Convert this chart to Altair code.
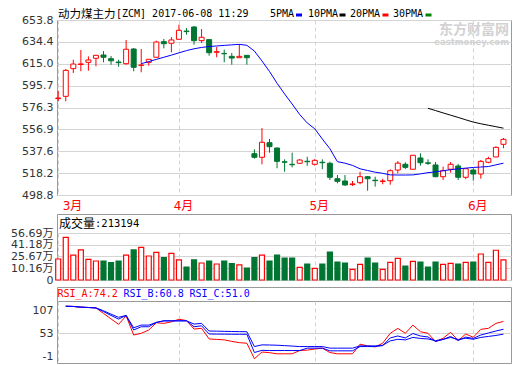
import altair as alt
import pandas as pd

# ---------------- data ----------------
opens = [584.2, 586.2, 610.7, 614.4, 616.3, 619.9, 622.8, 619.5, 616.6, 615.1,
         628.1, 613.6, 616.3, 620.8, 634.6, 633.2, 636.7, 644.0, 647.6, 635.5,
         636.4, 625.2, 624.2, 621.6, 620.4, 622.5, 535.4, 532.2, 545.1, 540.4,
         528.2, 526.0, 526.9, 528.7, 526.0, 527.8, 526.9, 513.2, 511.2, 508.0,
         509.7, 515.0, 511.9, 510.8, 511.5, 520.9, 526.0, 521.6, 531.6, 527.3,
         525.4, 515.0, 521.6, 524.5, 514.5, 520.9, 517.4, 527.8, 532.5, 543.7]
highs = [590.9, 610.4, 618.6, 627.2, 621.6, 622.5, 626.3, 621.9, 618.6, 636.1,
         629.0, 628.1, 619.0, 635.5, 637.0, 638.7, 649.7, 646.7, 648.5, 645.8,
         637.0, 629.9, 627.6, 624.6, 632.5, 622.5, 539.3, 558.1, 548.4, 541.0,
         530.4, 536.3, 530.4, 532.7, 530.7, 530.4, 528.3, 516.5, 516.5, 511.2,
         519.4, 515.6, 515.0, 513.2, 521.5, 528.9, 527.8, 534.0, 535.7, 530.4,
         528.0, 523.9, 528.0, 526.3, 522.1, 522.4, 529.8, 532.7, 541.9, 549.3]
lows = [582.0, 581.8, 606.9, 608.4, 608.9, 612.8, 616.3, 614.2, 612.4, 614.2,
        608.4, 607.5, 613.3, 620.8, 628.7, 625.2, 636.7, 640.8, 631.9, 633.4,
        622.2, 620.8, 616.3, 614.2, 620.4, 614.2, 531.0, 526.0, 536.3, 522.5,
        519.4, 523.3, 526.3, 524.8, 524.8, 521.6, 512.1, 509.2, 506.8, 506.8,
        508.3, 502.6, 506.2, 508.3, 507.9, 518.0, 521.8, 521.6, 524.8, 525.4,
        514.5, 512.1, 518.6, 512.1, 512.9, 511.5, 513.2, 526.9, 532.2, 540.2]
closes = [584.7, 609.2, 614.8, 614.9, 618.4, 622.5, 620.8, 617.7, 616.0, 627.9,
          611.9, 613.9, 619.0, 634.3, 632.8, 636.1, 644.7, 643.5, 635.5, 638.5,
          624.8, 625.7, 623.9, 620.1, 621.6, 620.4, 532.2, 545.5, 541.6, 528.6,
          527.8, 525.6, 529.8, 528.3, 529.5, 527.4, 514.5, 510.9, 507.7, 508.6,
          515.0, 513.2, 511.5, 511.2, 520.3, 527.0, 523.3, 534.0, 527.4, 526.9,
          515.0, 520.3, 526.0, 514.5, 522.1, 517.4, 528.6, 531.0, 541.0, 548.1]
volumes = [22.4, 51.0, 27.6, 34.3, 22.0, 19.7, 19.7, 17.5, 19.7, 27.6,
           34.3, 37.8, 26.3, 31.2, 24.1, 29.9, 21.1, 11.8, 21.1, 17.1,
           19.7, 15.8, 19.7, 16.2, 14.5, 10.5, 24.1, 27.6, 19.7, 27.6,
           23.7, 23.7, 11.4, 15.8, 10.1, 15.8, 31.6, 18.4, 17.1, 8.8,
           15.4, 23.7, 17.1, 8.8, 18.0, 23.3, 13.1, 19.3, 18.4, 11.8,
           18.4, 15.4, 16.7, 15.8, 18.0, 18.4, 29.0, 18.0, 33.9, 21.3]
ma_blue = [None] * 11 + [
    615.1, 617.0, 618.9, 620.8, 622.7, 624.7, 626.7, 628.3, 629.5,
    630.3, 630.8, 631.3, 631.8, 632.2, 631.4, 626.3, 617.5, 608.2, 597.8,
    588.3, 579.4, 570.1, 562.6, 557.4, 548.4, 539.8, 528.3, 527.0, 525.0,
    522.0, 520.5, 519.0, 518.0, 516.6, 516.5, 516.5, 516.6, 517.5, 518.6,
    519.3, 520.3, 521.2, 522.0, 522.6, 523.2, 523.6, 524.0, 525.5, 527.0]
ma_black = [None] * 49 + [575.6, 573.6, 571.5, 569.5, 567.5, 565.4, 563.4,
                          561.9, 560.6, 559.3, 558.0]
rsi_a = [None, 116.6, 116.1, 114.5, 113.6, 112.6, 99.8, 86.8, 74.0, 94.0,
         49.0, 53.0, 60.7, 77.7, 76.3, 80.0, 86.0, 83.0, 63.0, 64.6,
         39.7, 38.6, 37.6, 34.0, 31.0, 29.7, -6.8, 9.0, 7.5, 4.8,
         4.8, 4.8, 12.5, 13.5, 16.0, 18.1, 7.8, 4.8, 4.8, 4.8,
         27.4, 23.4, 21.1, 29.7, 53.0, 64.6, 53.0, 72.3, 56.7, 53.0,
         33.4, 41.4, 55.3, 35.8, 51.4, 43.7, 62.3, 64.6, 76.3, 80.9]
rsi_b = [None, 116.6, 116.1, 114.5, 113.6, 112.6, 104.0, 95.0, 86.3, 95.0,
         60.7, 68.4, 68.4, 78.6, 82.3, 82.3, 82.3, 82.3, 68.4, 70.7,
         51.4, 51.2, 51.0, 50.8, 50.7, 50.7, 7.8, 13.0, 12.5, 12.5,
         12.5, 12.5, 12.5, 18.1, 18.1, 18.1, 11.8, 11.8, 11.8, 11.8,
         21.8, 21.8, 21.8, 24.0, 42.1, 46.7, 42.1, 52.5, 46.7, 44.4,
         33.9, 38.6, 45.6, 36.1, 44.0, 41.0, 49.0, 53.7, 58.4, 62.5]
rsi_c = [None, 116.6, 116.1, 114.5, 113.6, 112.6, 106.0, 98.0, 90.5, 95.0,
         66.0, 72.3, 72.3, 78.6, 82.3, 82.3, 82.3, 82.3, 74.7, 76.3,
         58.4, 58.0, 57.6, 57.2, 56.9, 56.7, 21.8, 25.8, 25.5, 25.0,
         24.0, 23.0, 21.8, 21.8, 21.8, 21.8, 18.1, 18.1, 18.1, 18.1,
         23.4, 23.4, 23.4, 25.0, 35.1, 39.0, 37.4, 43.3, 40.9, 39.7,
         35.8, 38.6, 43.3, 38.6, 41.4, 39.0, 43.3, 45.6, 47.9, 51.0]

month_pos = [0, 16, 34, 55]
month_names = ["3月", "4月", "5月", "6月"]
price_ticks = [498.8, 518.2, 537.6, 556.9, 576.3, 595.7, 615.0, 634.4, 653.8]
vol_ticks = [-5.35, 10.16, 25.67, 41.18, 56.69]   # bottom one is labelled "0"
rsi_ticks = [-1, 53, 107]
rsi_domain = [-16.8, 128.9]

title_cn = "动力煤主力"
title_en = "[ZCM] 2017-06-08 11:29"
legend_names = ["5PMA", "10PMA", "20PMA", "30PMA"]
vol_title_cn = "成交量"
vol_title_num = ":213194"
rsi_header = ["RSI_A:74.2", "RSI_B:60.8", "RSI_C:51.0"]
watermark = ["东方财富网", "eastmoney.com"]

# ---------------- styles ----------------
RED = "#ff0000"
GREEN = "#007532"
BLUE = "#0000ff"
GRID = "#d4d4d4"
BORDER = "#999999"
FONT_NUM = "DejaVu Sans"
FONT_MONO = "DejaVu Sans Mono"
FONT_CJK = "Noto Sans CJK SC"
FONT_MIX = "DejaVu Sans Mono, Noto Sans CJK SC"
W = 454

df = pd.DataFrame({
    "i": list(range(len(opens))),
    "open": opens, "high": highs, "low": lows, "close": closes,
    "vol": volumes,
    "ma_blue": pd.Series(ma_blue, dtype=float),
    "ma_black": pd.Series(ma_black, dtype=float),
    "rsi_a": pd.Series(rsi_a, dtype=float),
    "rsi_b": pd.Series(rsi_b, dtype=float),
    "rsi_c": pd.Series(rsi_c, dtype=float),
})
df["dir"] = ["up" if c >= o else "down" for o, c in zip(opens, closes)]

x_scale = alt.Scale(domain=[-0.16, 60], nice=False, zero=False, padding=0)
month_expr = " : ".join(f"datum.value == {p} ? '{n}'" for p, n in zip(month_pos, month_names)) + " : ''"
x_main_axis = alt.Axis(values=month_pos, labelExpr=month_expr, grid=True, gridDash=[4, 3],
                       gridColor=GRID, ticks=False, domain=False, labelColor=RED,
                       labelFontSize=12, labelFont=f"{FONT_NUM}, {FONT_CJK}",
                       labelPadding=5, labelFlush=5, labelOffset=4, title=None)
x_grid_axis = alt.Axis(values=month_pos, labels=False, grid=True, gridDash=[4, 3],
                       gridColor=GRID, ticks=False, domain=False, title=None)

yax = dict(ticks=False, domain=False, labelPadding=4, labelFont=FONT_NUM, labelFontSize=11,
           labelColor="#333333", minExtent=48, maxExtent=48, title=None)
y_main_axis = alt.Axis(values=price_ticks, format=".1f", grid=True, gridColor=GRID, **yax)
y_main_scale = alt.Scale(domain=[price_ticks[0], price_ticks[-1]], nice=False, zero=False)

stroke_enc = alt.Stroke("dir:N", scale=alt.Scale(domain=["up", "down"], range=[RED, GREEN]), legend=None)
fill_enc = alt.Fill("dir:N", scale=alt.Scale(domain=["up", "down"], range=["#ffffff", GREEN]), legend=None)

base = alt.Chart(df)
X_main = alt.X("i:Q", scale=x_scale, axis=x_main_axis)

wicks = base.mark_rule(strokeWidth=1).encode(
    x=X_main, y=alt.Y("low:Q", scale=y_main_scale, axis=y_main_axis), y2="high:Q", stroke=stroke_enc)
bodies = base.mark_bar(width=5, strokeWidth=1).encode(
    x=X_main, y=alt.Y("open:Q", scale=y_main_scale, axis=y_main_axis), y2="close:Q",
    fill=fill_enc, stroke=stroke_enc)
line_blue = base.mark_line(color=BLUE, strokeWidth=1).encode(
    x=X_main, y=alt.Y("ma_blue:Q", scale=y_main_scale, axis=y_main_axis))
line_black = base.mark_line(color="#000000", strokeWidth=1).encode(
    x=X_main, y=alt.Y("ma_black:Q", scale=y_main_scale, axis=y_main_axis))


def text_layer(txt, x, y, font, size, color, align="left", weight="normal"):
    return alt.Chart(pd.DataFrame({"t": [txt]})).mark_text(
        align=align, baseline="middle", font=font, fontSize=size, color=color, fontWeight=weight
    ).encode(x=alt.value(x), y=alt.value(y), text="t:N")


wm1 = text_layer(watermark[0], 452, 10, FONT_CJK, 14, "#d2d2d2", align="right", weight="bold")
wm2 = text_layer(watermark[1], 452, 21.5, FONT_NUM, 8.5, "#d2d2d2", align="right", weight="bold")

t1 = text_layer(title_cn, 1, -5.5, FONT_MIX, 11.5, "#000000")
t2 = text_layer(title_en, 59, -6, FONT_MONO, 10, "#000000")

legend_colors = [BLUE, "#000000", RED, "#008000"]
legend_text_x = [213, 251, 293, 336]
legend_mark_x = [(239, 245), (282.5, 288.5), (325.5, 331.5), (368.5, 374.5)]
legend_layers = []
for name, col, tx, (m1, m2) in zip(legend_names, legend_colors, legend_text_x, legend_mark_x):
    legend_layers.append(text_layer(name, tx, -6, FONT_MONO, 10, "#000000"))
    legend_layers.append(
        alt.Chart(pd.DataFrame({"t": [name]})).mark_rule(color=col, strokeWidth=3).encode(
            x=alt.value(m1), x2=alt.value(m2), y=alt.value(-5)))

main = alt.layer(wicks, bodies, line_blue, line_black, wm1, wm2, t1, t2, *legend_layers).properties(
    width=W, height=175)


def spacer(h):
    return alt.Chart(pd.DataFrame({"t": [""]})).mark_text().encode(text="t:N").properties(
        width=W, height=h, view=alt.ViewBackground(stroke="transparent"))


# volume header + plot
vol_head = alt.layer(
    text_layer(vol_title_cn, 2, 9.5, FONT_CJK, 12, "#000000"),
    text_layer(vol_title_num, 38, 9.5, FONT_MONO, 10.5, "#000000"),
).properties(width=W, height=19)

vol_expr = "datum.value < 0 ? '0' : format(datum.value, '.2f') + '万'"
vol_plot = base.mark_bar(width=5, strokeWidth=1.2).encode(
    x=alt.X("i:Q", scale=x_scale, axis=x_grid_axis),
    y=alt.Y("vol:Q", scale=alt.Scale(domain=[vol_ticks[0], vol_ticks[-1]], nice=False, zero=False),
            axis=alt.Axis(values=vol_ticks, labelExpr=vol_expr, grid=True, gridColor=GRID,
                          **{**yax, "labelFont": f"{FONT_NUM}, {FONT_CJK}"})),
    y2=alt.datum(vol_ticks[0]),
    fill=fill_enc, stroke=stroke_enc,
).properties(width=W, height=47)

# RSI header + plot
rsi_colors = [RED, BLUE, BLUE]
rsi_head = alt.layer(
    *[text_layer(t, 0.5 + 66 * k, 7, FONT_MONO, 10, c) for k, (t, c) in enumerate(zip(rsi_header, rsi_colors))]
).properties(width=W, height=14)

rsi_plot = base.transform_fold(["rsi_a", "rsi_b", "rsi_c"], as_=["key", "val"]).mark_line(strokeWidth=1).encode(
    x=alt.X("i:Q", scale=x_scale, axis=x_grid_axis),
    y=alt.Y("val:Q", scale=alt.Scale(domain=rsi_domain, nice=False, zero=False),
            axis=alt.Axis(values=rsi_ticks, labelExpr="'' + datum.value", grid=True,
                          gridColor={"condition": {"test": "datum.value == 53", "value": GRID},
                                     "value": "transparent"}, **yax)),
    color=alt.Color("key:N", scale=alt.Scale(domain=["rsi_c", "rsi_b", "rsi_a"], range=[BLUE, BLUE, RED]),
                    legend=None),
    order=alt.Order("key:N", sort="descending"),
).properties(width=W, height=62)

chart = alt.vconcat(
    main, spacer(19), vol_head, vol_plot, spacer(7), rsi_head, rsi_plot,
    spacing=0, bounds="flush",
).resolve_scale(x="independent", y="independent", fill="shared", stroke="shared").properties(
    padding=0, background="#ffffff"
).configure_view(stroke=BORDER, strokeWidth=1)

chart.save("out.html", embed_options={"renderer": "svg", "actions": False})
